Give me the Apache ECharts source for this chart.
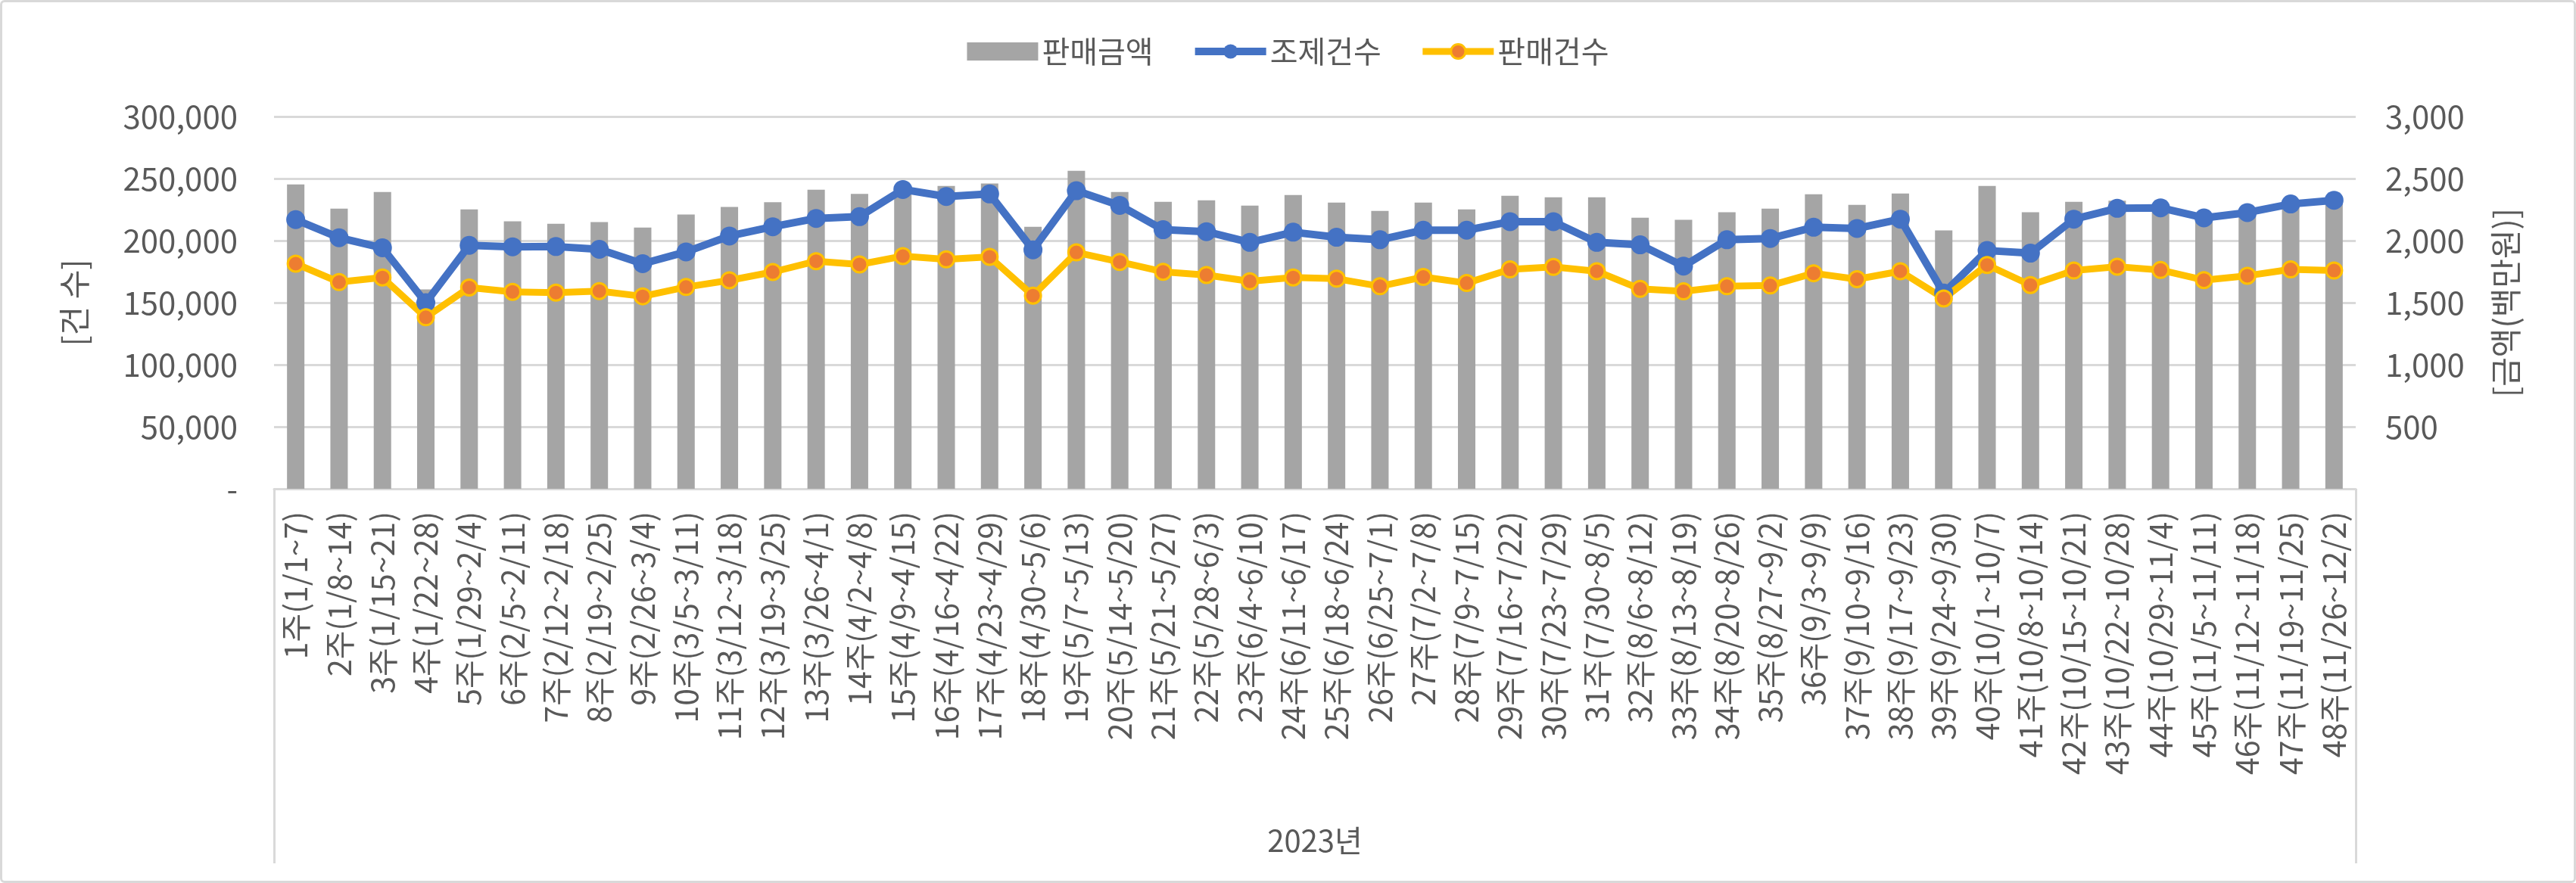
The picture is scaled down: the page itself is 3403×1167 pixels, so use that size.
<!DOCTYPE html>
<html>
<head>
<meta charset="utf-8">
<script src="https://cdn.jsdelivr.net/npm/echarts@6/dist/echarts.min.js"></script>
<style>
html,body{margin:0;padding:0;background:#fff;}
#wrap{position:relative;width:3403px;height:1167px;}
#chart{width:3403px;height:1167px;}
#frame{position:absolute;left:0;top:0;width:3403px;height:1167px;box-sizing:border-box;border:3px solid #d9d9d9;border-radius:6px;pointer-events:none;}
</style>
</head>
<body>
<div id="wrap"><div id="chart"></div><div id="frame"></div></div>
<script>
const categories = ['1주(1/1~7)','2주(1/8~14)','3주(1/15~21)','4주(1/22~28)','5주(1/29~2/4)','6주(2/5~2/11)','7주(2/12~2/18)','8주(2/19~2/25)','9주(2/26~3/4)','10주(3/5~3/11)','11주(3/12~3/18)','12주(3/19~3/25)','13주(3/26~4/1)','14주(4/2~4/8)','15주(4/9~4/15)','16주(4/16~4/22)','17주(4/23~4/29)','18주(4/30~5/6)','19주(5/7~5/13)','20주(5/14~5/20)','21주(5/21~5/27)','22주(5/28~6/3)','23주(6/4~6/10)','24주(6/11~6/17)','25주(6/18~6/24)','26주(6/25~7/1)','27주(7/2~7/8)','28주(7/9~7/15)','29주(7/16~7/22)','30주(7/23~7/29)','31주(7/30~8/5)','32주(8/6~8/12)','33주(8/13~8/19)','34주(8/20~8/26)','35주(8/27~9/2)','36주(9/3~9/9)','37주(9/10~9/16)','38주(9/17~9/23)','39주(9/24~9/30)','40주(10/1~10/7)','41주(10/8~10/14)','42주(10/15~10/21)','43주(10/22~10/28)','44주(10/29~11/4)','45주(11/5~11/11)','46주(11/12~11/18)','47주(11/19~11/25)','48주(11/26~12/2)'];
const groupLabel = ['2023년'];
// 판매금액 (백만원)
const salesAmount = [2453,2258,2392,1607,2252,2155,2136,2149,2105,2210,2272,2310,2410,2376,2420,2440,2461,2112,2562,2392,2313,2325,2282,2368,2307,2240,2307,2252,2361,2349,2349,2185,2167,2228,2258,2374,2288,2380,2082,2440,2228,2313,2321,2290,2200,2240,2290,2320];
// 조제건수
const dispenseCount = [216900,202300,194200,150000,196200,195000,195200,193000,181400,190900,203700,211200,217900,219300,241200,235500,237600,192600,240200,228400,208800,207200,198600,206800,202700,200700,208400,208400,215300,215300,198600,196600,179400,200700,201700,210800,209800,217300,157700,192000,189900,217300,226000,226400,218300,222600,229500,232500];
// 판매건수
const salesCount = [181400,166600,170300,138200,162200,158700,158100,159300,155100,162600,168000,174700,183400,180800,187500,184900,186900,155700,190500,182800,174900,172300,167200,170300,169300,163200,170700,165800,176800,178800,175300,161100,159100,163200,163800,173700,168900,175300,153400,180400,164200,175900,179000,176300,168200,171700,176800,175900];

const FONT = '"Noto Sans CJK KR","Noto Sans",sans-serif';
const TXT = '#595959';
const chart = echarts.init(document.getElementById('chart'));
chart.setOption({
  animation:false,
  textStyle:{fontFamily:FONT},
  legend:{
    top:43, left:'center', itemWidth:94, itemHeight:24, itemGap:50,
    textStyle:{fontSize:40,color:TXT,fontFamily:FONT},
    data:[
      {name:'판매금액',icon:'rect'},
      {name:'조제건수',lineStyle:{width:10,color:'#4472c4'},itemStyle:{color:'#4472c4'}},
      {name:'판매건수',lineStyle:{width:9,color:'#ffc000'},itemStyle:{color:'#ed7d31',borderColor:'#ffc000',borderWidth:3}}
    ]
  },
  grid:{left:362,right:291,top:154,bottom:521},
  xAxis:[{
    type:'category', data:categories, position:'bottom',
    axisLine:{show:true,lineStyle:{color:'#d9d9d9',width:3}},
    axisTick:{show:false},
    axisLabel:{interval:0,rotate:90,fontSize:41,color:TXT,margin:30,fontFamily:FONT}
  },{
    type:'category', data:groupLabel, position:'bottom', offset:0,
    axisLine:{show:false},
    axisTick:{show:true,length:495,lineStyle:{color:'#d9d9d9',width:3}},
    axisLabel:{fontSize:40,color:TXT,margin:445,fontFamily:FONT},
    splitLine:{show:false}
  }],
  yAxis:[{
    type:'value', min:0, max:300000, interval:50000,
    name:'[건 수]', nameLocation:'middle', nameGap:243,
    nameTextStyle:{fontSize:42,color:TXT,fontFamily:FONT},
    axisLine:{show:false}, axisTick:{show:false},
    axisLabel:{fontSize:42,color:TXT,margin:48,fontFamily:FONT,
      formatter:v=> v===0 ? '-' : v.toLocaleString('en-US')},
    splitLine:{lineStyle:{color:'#d9d9d9',width:3}}
  },{
    type:'value', min:0, max:3000, interval:500, position:'right',
    name:'[금액(백만원)]', nameLocation:'middle', nameGap:177,
    nameTextStyle:{fontSize:42,color:TXT,fontFamily:FONT},
    axisLine:{show:false}, axisTick:{show:false},
    axisLabel:{fontSize:42,color:TXT,margin:39,fontFamily:FONT,
      formatter:v=> v===0 ? '' : v.toLocaleString('en-US')},
    splitLine:{show:false}
  }],
  series:[{
    name:'판매금액', type:'bar', yAxisIndex:1, data:salesAmount,
    barWidth:23, itemStyle:{color:'#a5a5a5'}
  },{
    name:'조제건수', type:'line', yAxisIndex:0, data:dispenseCount,
    symbol:'circle', symbolSize:25,
    lineStyle:{color:'#4472c4',width:10},
    itemStyle:{color:'#4472c4',borderColor:'#4472c4',borderWidth:0}
  },{
    name:'판매건수', type:'line', yAxisIndex:0, data:salesCount,
    symbol:'circle', symbolSize:21,
    lineStyle:{color:'#ffc000',width:9},
    itemStyle:{color:'#ed7d31',borderColor:'#ffc000',borderWidth:3}
  }]
});
</script>
</body>
</html>
